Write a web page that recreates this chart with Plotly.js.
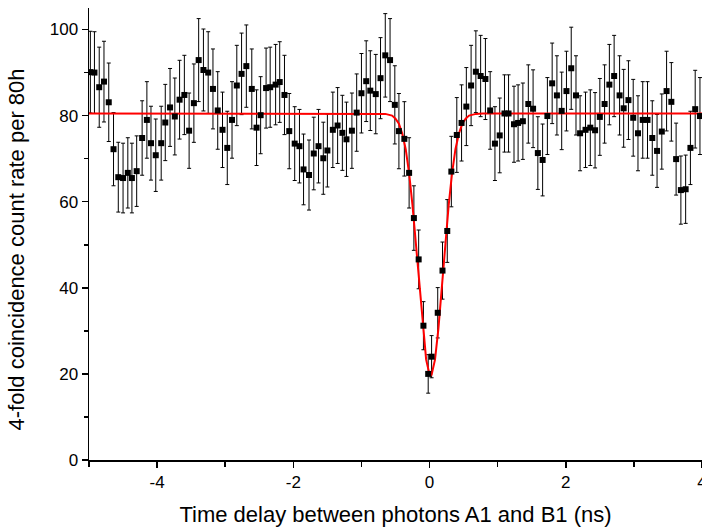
<!DOCTYPE html>
<html>
<head>
<meta charset="utf-8">
<script src="https://cdn.plot.ly/plotly-3.0.1.min.js"></script>
<style>html,body{margin:0;padding:0;background:#fff;overflow:hidden}#chart{width:702px;height:532px}</style>
</head>
<body>
<div id="chart"></div>
<script>
// Time delay (ns) of each measured point
const delayNs = [
-4.98,-4.92,-4.85,-4.78,-4.71,-4.64,-4.57,-4.50,-4.43,-4.37,
-4.30,-4.22,-4.15,-4.09,-4.02,-3.94,-3.88,-3.81,-3.74,-3.67,
-3.60,-3.53,-3.46,-3.39,-3.32,-3.25,-3.18,-3.11,-3.04,-2.97,
-2.90,-2.83,-2.76,-2.69,-2.61,-2.54,-2.48,-2.40,-2.34,-2.26,
-2.20,-2.13,-2.06,-1.98,-1.91,-1.85,-1.77,-1.70,-1.63,-1.56,
-1.50,-1.42,-1.35,-1.28,-1.22,-1.14,-1.07,-1.00,-0.93,-0.87,
-0.79,-0.72,-0.65,-0.58,-0.51,-0.45,-0.37,-0.30,-0.23,-0.16,
-0.09,-0.02,0.03,0.12,0.19,0.26,0.32,0.40,0.47,0.54,
0.61,0.68,0.75,0.82,0.89,0.96,1.03,1.10,1.16,1.24,
1.30,1.37,1.45,1.52,1.59,1.66,1.73,1.80,1.87,1.94,
2.01,2.08,2.15,2.21,2.29,2.36,2.43,2.50,2.57,2.64,
2.71,2.79,2.85,2.92,2.99,3.06,3.13,3.20,3.27,3.34,
3.41,3.48,3.55,3.62,3.69,3.76,3.83,3.90,3.97
];
// 4-fold coincidence counts per 80h
const counts = [
90.1,90.0,86.6,87.9,83.1,72.2,65.7,65.5,66.7,65.5,
67.1,74.8,79.0,73.6,70.8,73.6,78.4,81.9,79.8,83.7,
84.8,76.5,82.9,92.9,90.6,90.0,86.2,81.2,76.7,72.5,
79.0,87.0,89.7,91.5,86.2,77.2,80.1,86.4,86.6,87.2,
87.8,84.8,76.4,73.5,72.9,67.5,66.2,71.2,72.9,70.1,
71.9,76.7,77.7,76.0,74.5,76.5,80.7,85.2,88.0,85.8,
85.0,88.7,94.0,92.9,82.5,76.4,74.6,66.7,56.2,46.6,
31.2,20.0,24.0,34.2,44.0,53.2,67.0,75.5,78.3,82.1,
87.0,90.2,89.2,88.5,81.2,73.5,75.4,80.5,80.5,78.0,
78.3,78.7,82.7,81.6,71.3,69.7,79.9,87.5,84.7,81.1,
85.7,91.0,84.7,75.9,76.7,77.2,76.6,79.7,82.7,87.2,
89.2,84.7,81.7,83.6,79.5,75.9,79.0,79.0,74.8,71.8,
76.3,85.7,83.2,69.9,62.7,62.9,72.5,81.5,79.9
];
// Fitted curve
const fitX = [-5,-0.75,-0.65,-0.55,-0.5,-0.45,-0.4,-0.35,-0.3,-0.25,-0.2,-0.15,-0.1,-0.05,0,0.015,0.03,0.08,0.13,0.18,0.23,0.28,0.33,0.38,0.43,0.48,0.53,0.58,0.68,0.78,4];
const fitY = [80.5,80.5,80.4,80.0,79.3,78.1,75.8,72.2,66.6,59.1,50.0,40.0,30.5,23.3,19.8,19.6,19.8,23.3,30.5,40.0,50.0,59.1,66.6,72.2,75.8,78.1,79.3,80.0,80.4,80.5,80.5];

const xTickVals = [-4,-2,0,2,4];
const yTickVals = [0,20,40,60,80,100];
const xTitle = 'Time delay between photons A1 and B1 (ns)';
const yTitle = '4-fold coincidence count rate per 80h';

const font = {family: '"Liberation Sans", Arial, sans-serif', color: '#000'};

const traces = [
  {x: delayNs, y: counts, type: 'scatter', mode: 'markers',
   marker: {size: 6, color: 'rgba(0,0,0,0)'},
   error_y: {type: 'sqrt', visible: true, color: '#000', thickness: 1, width: 2},
   hoverinfo: 'skip', showlegend: false},
  {x: fitX, y: fitY, type: 'scatter', mode: 'lines',
   line: {color: '#ff0000', width: 2}, showlegend: false},
  {x: delayNs, y: counts, type: 'scatter', mode: 'markers',
   marker: {symbol: 'square', size: 6, color: '#000'}, showlegend: false}
];

const layout = {
  width: 702, height: 532,
  margin: {l: 89, r: 0, t: 8, b: 72, pad: 0},
  paper_bgcolor: '#fff', plot_bgcolor: '#fff',
  font: Object.assign({size: 17}, font),
  showlegend: false,
  xaxis: {
    range: [-5, 4], showgrid: false, zeroline: false,
    showline: true, linecolor: '#000', linewidth: 1.5,
    tickmode: 'array', tickvals: xTickVals, ticktext: xTickVals.map(String),
    ticks: 'outside', ticklen: 6, tickwidth: 1.5, tickcolor: '#000',
    ticklabeloverflow: 'allow',
    minor: {dtick: 1, tick0: 0, ticks: 'outside', ticklen: 5, tickwidth: 1.5, tickcolor: '#000'},
    tickfont: Object.assign({size: 17}, font),
    title: {text: xTitle, font: Object.assign({size: 22}, font), standoff: 15}
  },
  yaxis: {
    range: [0, 105], showgrid: false, zeroline: false,
    showline: true, linecolor: '#000', linewidth: 1.5,
    tickmode: 'array', tickvals: yTickVals, ticktext: yTickVals.map(String),
    ticks: 'outside', ticklen: 6, tickwidth: 1.5, tickcolor: '#000',
    minor: {dtick: 10, tick0: 0, ticks: 'outside', ticklen: 4, tickwidth: 1.5, tickcolor: '#000'},
    tickfont: Object.assign({size: 17}, font)
  },
  annotations: [{
    text: yTitle, textangle: -90, showarrow: false,
    xref: 'paper', yref: 'paper', x: -0.118, y: 0.465,
    xanchor: 'center', yanchor: 'middle',
    font: Object.assign({size: 22}, font)
  }]
};

Plotly.newPlot('chart', traces, layout, {staticPlot: true, displayModeBar: false});
</script>
</body>
</html>
